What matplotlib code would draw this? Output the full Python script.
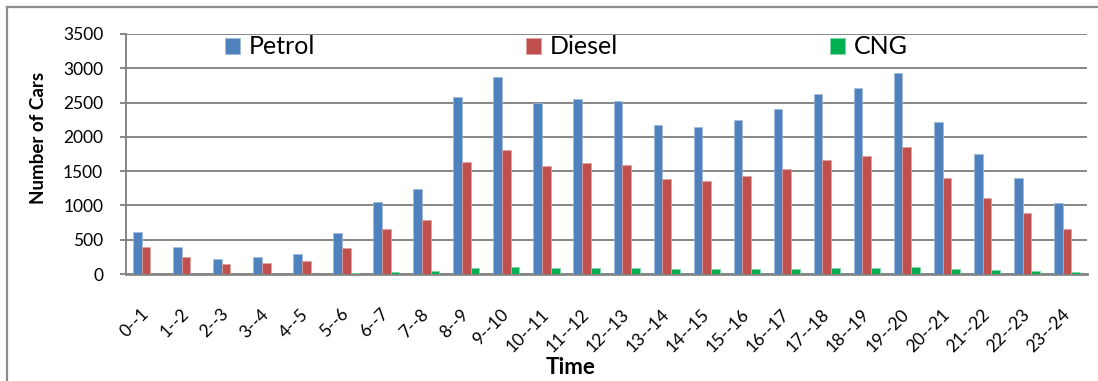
import numpy as np
import matplotlib.pyplot as plt
from matplotlib.lines import Line2D

plt.rcParams["font.family"] = ["Lato", "DejaVu Sans"]

# Hourly car counts by fuel type
hours = ["0--1", "1--2", "2--3", "3--4", "4--5", "5--6", "6--7", "7--8",
         "8--9", "9--10", "10--11", "11--12", "12--13", "13--14", "14--15",
         "15--16", "16--17", "17--18", "18--19", "19--20", "20--21", "21--22",
         "22--23", "23--24"]
petrol = [612, 389, 224, 243, 292, 593, 1045, 1240, 2586, 2868, 2489, 2552,
          2523, 2178, 2139, 2246, 2412, 2625, 2713, 2927, 2217, 1750, 1400, 1040]
diesel = [389, 248, 141, 155, 185, 379, 661, 787, 1633, 1813, 1575, 1619,
          1595, 1381, 1352, 1425, 1527, 1662, 1716, 1852, 1400, 1108, 890, 656]
cng = [4, 3, 2, 2, 3, 8, 29, 39, 87, 97, 82, 87,
       82, 73, 73, 73, 73, 82, 87, 97, 73, 53, 39, 29]

fig = plt.figure(figsize=(10.98, 3.81), dpi=100)
ax = fig.add_axes([0.1148, 0.2808, 0.8752, 0.63])

x = np.arange(len(hours))
w = 0.217
ax.bar(x - w, petrol, w, color="#4F81BD", edgecolor="#9fbbe0", linewidth=0.5, label="Petrol", zorder=3)
ax.bar(x, diesel, w, color="#C0504D", edgecolor="#e0a09e", linewidth=0.5, label="Diesel", zorder=3)
ax.bar(x + w, cng, w, color="#00B050", edgecolor="#7fd8a7", linewidth=0.5, label="CNG", zorder=3)

ax.set_xlim(-0.5, len(hours) - 0.5)
ax.set_ylim(0, 3500)
ax.set_yticks(range(0, 3501, 500))
ax.yaxis.grid(True, color="#868686", linewidth=1.4)
ax.set_axisbelow(True)

for side in ["top", "right"]:
    ax.spines[side].set_visible(False)
ax.spines["left"].set_color("#868686")
ax.spines["left"].set_linewidth(1.4)
ax.spines["bottom"].set_color("#868686")
ax.spines["bottom"].set_linewidth(2)

ax.tick_params(axis="y", length=4.5, width=1.4, color="#868686", pad=12, labelsize=12.5)
ax.set_xticks(x)
ax.set_xticklabels(hours, rotation=45, ha="right", va="center", rotation_mode="anchor", fontsize=12.5)
ax.tick_params(axis="x", length=0, pad=27)

ax.set_ylabel("Number of Cars", fontsize=13.5, fontweight="bold")
ax.yaxis.set_label_coords(-0.082, 0.565)
ax.set_xlabel("Time", fontsize=16, fontweight="bold")
ax.xaxis.set_label_coords(0.463, -0.345)

ax.legend(loc="center left", bbox_to_anchor=(0.103, 0.946), ncol=3, frameon=False,
          fontsize=18, handlelength=0.6, handleheight=0.6, handletextpad=0.35,
          columnspacing=8.45, borderpad=0, borderaxespad=0)

# Chart frame
fig.add_artist(Line2D([0.0064, 0.0064], [0, 0.9816], color="#8c8c8c", linewidth=1.6))
fig.add_artist(Line2D([0.0064, 1], [0.9816, 0.9816], color="#8c8c8c", linewidth=1.6))

fig.savefig("out.png", dpi=100)
